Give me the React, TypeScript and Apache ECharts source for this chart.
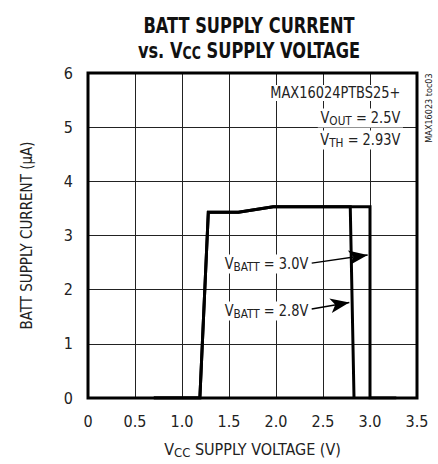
import React, { useEffect, useRef } from "react";
import * as echarts from "echarts";

const xTicks = [0, 0.5, 1.0, 1.5, 2.0, 2.5, 3.0, 3.5];
const yTicks = [0, 1, 2, 3, 4, 5, 6];

const vbatt30X = [0.7, 1.19, 1.28, 1.6, 1.97, 3.0, 3.0, 3.28];
const vbatt30Y = [0, 0, 3.43, 3.43, 3.53, 3.53, 0, 0];
const vbatt28X = [0.7, 1.19, 1.28, 1.6, 1.97, 2.79, 2.83];
const vbatt28Y = [0, 0, 3.43, 3.43, 3.53, 3.53, 0];

const FONT = "'Liberation Sans Narrow', 'DejaVu Sans Condensed', 'Roboto Condensed', sans-serif";

export default function App() {
  const ref = useRef<HTMLDivElement>(null);
  useEffect(() => {
    document.body.style.margin = "0";
    const chart = echarts.init(ref.current!, null, { renderer: "svg" });
    const pair = (xs: number[], ys: number[]) => xs.map((x, i) => [x, ys[i]]);
    const sub = { fontSize: 13, fontFamily: FONT, color: "#222", padding: [6, 0, 0, 0] };
    const annot = (text: string, x: number, y: number, align: string) => ({
      type: "text",
      x,
      y,
      z: 50,
      scaleX: 0.9,
      style: {
        text,
        x: 0,
        y: 0,
        align,
        verticalAlign: "middle",
        fontFamily: FONT,
        fontSize: 16,
        fill: "#222",
        backgroundColor: "#fff",
        padding: [0, 3, 0, 3],
        rich: { sub },
      },
    });
    const titleLine = (text: string, y: number) => ({
      type: "text",
      x: 249,
      y,
      scaleX: 0.82,
      style: {
        text,
        x: 0,
        y: 0,
        align: "center",
        verticalAlign: "middle",
        fontFamily: FONT,
        fontWeight: "bold",
        fontSize: 22,
        fill: "#111",
        rich: {
          sub: { fontFamily: FONT, fontWeight: "bold", fontSize: 17, fill: "#111", padding: [7, 0, 0, 0] },
        },
      },
    });
    chart.setOption({
      animation: false,
      grid: {
        left: 88,
        top: 73,
        width: 329,
        height: 328.5,
        show: true,
        borderColor: "#000",
        borderWidth: 3,
        backgroundColor: "transparent",
        z: 10,
      },
      xAxis: {
        type: "value",
        min: 0,
        max: 3.5,
        interval: 0.5,
        axisLine: { show: false },
        axisTick: { show: false },
        splitLine: { show: true, lineStyle: { color: "#222", width: 1 } },
        axisLabel: {
          margin: 15,
          fontFamily: FONT,
          fontSize: 16,
          color: "#222",
          formatter: (v: number) => (v === 0 ? "0" : v.toFixed(1)),
        },
        name: "V{sub|CC} SUPPLY VOLTAGE (V)",
        nameLocation: "middle",
        nameGap: 42,
        nameTextStyle: { fontFamily: FONT, fontSize: 16, color: "#222", rich: { sub } },
      },
      yAxis: {
        type: "value",
        min: 0,
        max: 6,
        interval: 1,
        axisLine: { show: false },
        axisTick: { show: false },
        splitLine: { show: true, lineStyle: { color: "#222", width: 1 } },
        axisLabel: { margin: 15, fontFamily: FONT, fontSize: 16, color: "#222" },
        name: "BATT SUPPLY CURRENT (µA)",
        nameLocation: "middle",
        nameGap: 54,
        nameTextStyle: { fontFamily: FONT, fontSize: 15, color: "#222" },
      },
      series: [
        {
          name: "VBATT = 3.0V",
          type: "line",
          data: pair(vbatt30X, vbatt30Y),
          symbol: "none",
          lineStyle: { color: "#000", width: 3, join: "miter" },
          z: 5,
          markLine: {
            silent: true,
            symbol: ["none", "arrow"],
            symbolSize: [11, 19],
            lineStyle: { color: "#000", width: 1.5, type: "solid" },
            label: { show: false },
            data: [
              [{ coord: [2.38, 2.49] }, { coord: [2.975, 2.64] }],
              [{ coord: [2.38, 1.645] }, { coord: [2.78, 1.764] }],
            ],
          },
        },
        {
          name: "VBATT = 2.8V",
          type: "line",
          data: pair(vbatt28X, vbatt28Y),
          symbol: "none",
          lineStyle: { color: "#000", width: 3, join: "miter" },
          z: 5,
        },
      ],
      graphic: [
        titleLine("BATT SUPPLY CURRENT", 25),
        titleLine("vs. V{sub|CC} SUPPLY VOLTAGE", 50),
        annot("MAX16024PTBS25+", 403, 93, "right"),
        annot("V{sub|OUT} = 2.5V", 403, 118, "right"),
        annot("V{sub|TH} = 2.93V", 403, 140, "right"),
        annot("V{sub|BATT} = 3.0V", 222, 264, "left"),
        annot("V{sub|BATT} = 2.8V", 222, 311, "left"),
        {
          type: "text",
          x: 429,
          y: 108,
          rotation: Math.PI / 2,
          style: {
            text: "MAX16023 toc03",
            align: "center",
            verticalAlign: "middle",
            fontFamily: FONT,
            fontSize: 9,
            fill: "#222",
          },
        },
      ],
    });
    return () => chart.dispose();
  }, []);
  return <div ref={ref} style={{ position: "absolute", left: 0, top: 0, width: 438, height: 464 }} />;
}
